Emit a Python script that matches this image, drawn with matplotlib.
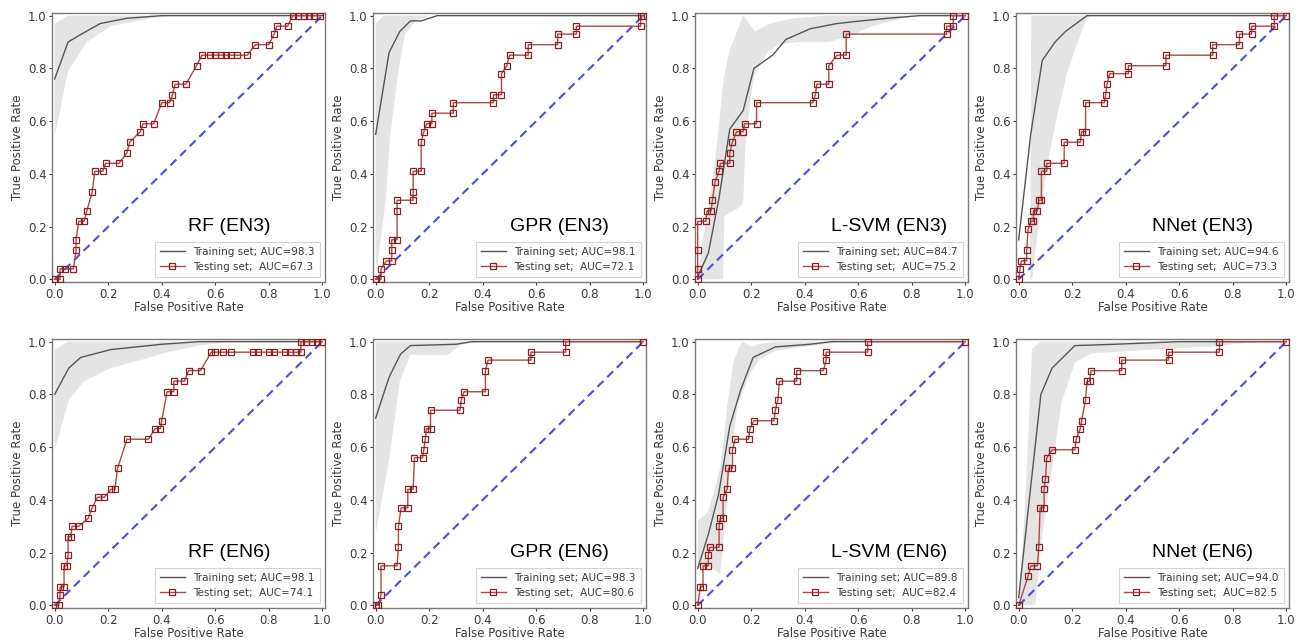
import numpy as np
import matplotlib
matplotlib.use("Agg")
import matplotlib.pyplot as plt

# panel names and AUC values
titles = ["RF (EN3)", "GPR (EN3)", "L-SVM (EN3)", "NNet (EN3)",
          "RF (EN6)", "GPR (EN6)", "L-SVM (EN6)", "NNet (EN6)"]
auc_train = [98.3, 98.1, 84.7, 94.6, 98.1, 98.3, 89.8, 94.0]
auc_test = [67.3, 72.1, 75.2, 73.3, 74.1, 80.6, 82.4, 82.5]

# ---- RF (EN3)
rf3_train = [(0, 0.76), (0.05, 0.90), (0.10, 0.93), (0.17, 0.97), (0.27, 0.99), (0.40, 1.0), (1.0, 1.0)]
rf3_hi = [(0, 0.97), (0.05, 1.0), (1.0, 1.0)]
rf3_lo = [(0, 0.54), (0.05, 0.79), (0.12, 0.90), (0.21, 0.96), (0.36, 0.99), (0.45, 1.0), (1.0, 1.0)]
rf3_test = [(0.0, 0.0), (0.02, 0.0), (0.02, 0.04), (0.04, 0.04), (0.07, 0.04), (0.08, 0.11), (0.08, 0.15),
            (0.09, 0.22), (0.11, 0.22), (0.12, 0.26), (0.14, 0.33), (0.15, 0.41), (0.18, 0.41), (0.19, 0.44),
            (0.24, 0.44), (0.27, 0.48), (0.28, 0.52), (0.32, 0.56), (0.33, 0.59), (0.37, 0.59), (0.40, 0.67),
            (0.43, 0.67), (0.44, 0.70), (0.45, 0.74), (0.49, 0.74), (0.53, 0.81), (0.55, 0.85), (0.58, 0.85),
            (0.60, 0.85), (0.62, 0.85), (0.64, 0.85), (0.66, 0.85), (0.68, 0.85), (0.72, 0.85), (0.75, 0.89),
            (0.80, 0.89), (0.82, 0.93), (0.83, 0.96), (0.87, 0.96), (0.89, 1.0), (0.91, 1.0), (0.93, 1.0),
            (0.95, 1.0), (0.97, 1.0), (0.99, 1.0)]

# ---- GPR (EN3)
gpr3_train = [(0, 0.55), (0.05, 0.86), (0.09, 0.94), (0.13, 0.98), (0.17, 0.98), (0.23, 1.0), (1.0, 1.0)]
gpr3_hi = [(0, 0.97), (0.03, 1.0), (1.0, 1.0)]
gpr3_lo = [(0, 0.0), (0.037, 0.30), (0.055, 0.55), (0.086, 0.80), (0.11, 0.93), (0.15, 0.98), (0.20, 1.0), (1.0, 1.0)]
gpr3_test = [(0.0, 0.0), (0.02, 0.0), (0.02, 0.04), (0.04, 0.07), (0.06, 0.07), (0.06, 0.11), (0.06, 0.15),
             (0.08, 0.15), (0.08, 0.26), (0.08, 0.30), (0.14, 0.30), (0.14, 0.33), (0.14, 0.41), (0.17, 0.41),
             (0.17, 0.52), (0.18, 0.56), (0.19, 0.59), (0.21, 0.59), (0.21, 0.63), (0.29, 0.63), (0.29, 0.67),
             (0.44, 0.67), (0.44, 0.70), (0.47, 0.70), (0.47, 0.78), (0.49, 0.81), (0.50, 0.85), (0.57, 0.85),
             (0.57, 0.89), (0.68, 0.89), (0.68, 0.93), (0.75, 0.93), (0.75, 0.96), (0.99, 0.96), (0.99, 1.0),
             (1.0, 1.0)]

# ---- L-SVM (EN3)
svm3_train = [(0, 0.01), (0.04, 0.10), (0.08, 0.31), (0.12, 0.57), (0.17, 0.64), (0.21, 0.80), (0.28, 0.85),
              (0.33, 0.91), (0.42, 0.95), (0.52, 0.97), (0.61, 0.98), (0.71, 0.99), (0.83, 1.0), (1.0, 1.0)]
svm3_hi = [(0, 0.0), (0.02, 0.15), (0.047, 0.31), (0.072, 0.51), (0.097, 0.76), (0.12, 0.87), (0.17, 1.0),
           (0.214, 0.94), (0.27, 0.97), (0.36, 0.99), (0.48, 1.0), (1.0, 1.0)]
svm3_lo = [(0, 0.0), (0.094, 0.0), (0.10, 0.24), (0.15, 0.27), (0.17, 0.29), (0.18, 0.55), (0.21, 0.77),
           (0.26, 0.86), (0.30, 0.89), (0.375, 0.90), (0.49, 0.90), (0.585, 0.93), (0.65, 0.96), (0.77, 0.99),
           (0.83, 1.0), (1.0, 1.0)]
svm3_test = [(0.0, 0.0), (0.0, 0.04), (0.0, 0.11), (0.0, 0.22), (0.03, 0.22), (0.035, 0.26), (0.05, 0.26),
             (0.055, 0.30), (0.065, 0.37), (0.08, 0.41), (0.085, 0.44), (0.12, 0.44), (0.12, 0.48), (0.13, 0.52),
             (0.145, 0.56), (0.17, 0.56), (0.175, 0.59), (0.22, 0.59), (0.22, 0.67), (0.43, 0.67), (0.44, 0.70),
             (0.445, 0.74), (0.49, 0.74), (0.49, 0.81), (0.52, 0.85), (0.555, 0.85), (0.555, 0.93), (0.93, 0.93),
             (0.93, 0.96), (0.955, 0.96), (0.955, 1.0), (1.0, 1.0)]

# ---- NNet (EN3)
nn3_train = [(0, 0.15), (0.045, 0.55), (0.088, 0.83), (0.136, 0.90), (0.175, 0.94), (0.255, 1.0), (1.0, 1.0)]
nn3_hi = [(0, 0.0), (0.043, 0.0), (0.047, 1.0), (1.0, 1.0)]
nn3_lo = [(0, 0.0), (0.05, 0.0), (0.08, 0.25), (0.11, 0.45), (0.15, 0.65), (0.18, 0.78), (0.21, 0.87),
          (0.25, 0.98), (0.27, 1.0), (1.0, 1.0)]
nn3_test = [(0.0, 0.0), (0.005, 0.04), (0.01, 0.07), (0.03, 0.07), (0.03, 0.11), (0.035, 0.19), (0.045, 0.22),
            (0.055, 0.22), (0.055, 0.26), (0.07, 0.26), (0.075, 0.30), (0.085, 0.30), (0.085, 0.41), (0.105, 0.41),
            (0.105, 0.44), (0.17, 0.44), (0.17, 0.52), (0.23, 0.52), (0.235, 0.56), (0.25, 0.56), (0.25, 0.67),
            (0.32, 0.67), (0.325, 0.70), (0.33, 0.74), (0.34, 0.78), (0.41, 0.78), (0.41, 0.81), (0.55, 0.81),
            (0.55, 0.85), (0.725, 0.85), (0.725, 0.89), (0.825, 0.89), (0.825, 0.93), (0.87, 0.93), (0.87, 0.96),
            (0.955, 0.96), (0.955, 1.0), (1.0, 1.0)]

# ---- RF (EN6)
rf6_train = [(0, 0.80), (0.053, 0.90), (0.097, 0.94), (0.21, 0.97), (0.40, 0.99), (0.54, 1.0), (1.0, 1.0)]
rf6_hi = [(0, 0.97), (0.05, 1.0), (1.0, 1.0)]
rf6_lo = [(0, 0.59), (0.053, 0.78), (0.11, 0.85), (0.21, 0.90), (0.32, 0.93), (0.42, 0.96), (0.54, 0.985),
          (0.66, 1.0), (1.0, 1.0)]
rf6_test = [(0.0, 0.0), (0.015, 0.0), (0.02, 0.04), (0.02, 0.07), (0.035, 0.07), (0.035, 0.15), (0.045, 0.15),
            (0.05, 0.19), (0.05, 0.26), (0.06, 0.26), (0.065, 0.30), (0.09, 0.30), (0.125, 0.33), (0.14, 0.37),
            (0.16, 0.41), (0.185, 0.41), (0.21, 0.44), (0.225, 0.44), (0.235, 0.52), (0.27, 0.63), (0.35, 0.63),
            (0.375, 0.67), (0.395, 0.67), (0.40, 0.70), (0.42, 0.81), (0.445, 0.81), (0.445, 0.85), (0.485, 0.85),
            (0.50, 0.89), (0.545, 0.89), (0.585, 0.96), (0.60, 0.96), (0.63, 0.96), (0.66, 0.96), (0.74, 0.96),
            (0.76, 0.96), (0.80, 0.96), (0.82, 0.96), (0.86, 0.96), (0.88, 0.96), (0.90, 0.96), (0.92, 0.96),
            (0.92, 1.0), (0.94, 1.0), (0.96, 1.0), (0.98, 1.0), (1.0, 1.0)]

# ---- GPR (EN6)
gpr6_train = [(0, 0.71), (0.05, 0.865), (0.093, 0.953), (0.13, 0.985), (0.30, 0.99), (0.36, 1.0), (1.0, 1.0)]
gpr6_hi = [(0, 1.0), (1.0, 1.0)]
gpr6_lo = [(0, 0.27), (0.05, 0.55), (0.09, 0.85), (0.13, 0.95), (0.27, 0.95), (0.32, 0.99), (0.40, 1.0), (1.0, 1.0)]
gpr6_test = [(0.0, 0.0), (0.01, 0.0), (0.02, 0.04), (0.02, 0.15), (0.08, 0.15), (0.085, 0.22), (0.085, 0.30),
             (0.095, 0.37), (0.12, 0.37), (0.12, 0.44), (0.14, 0.44), (0.145, 0.56), (0.175, 0.56), (0.18, 0.59),
             (0.185, 0.63), (0.19, 0.67), (0.205, 0.67), (0.205, 0.74), (0.315, 0.74), (0.32, 0.78), (0.33, 0.81),
             (0.41, 0.81), (0.41, 0.89), (0.42, 0.93), (0.58, 0.93), (0.58, 0.96), (0.71, 0.96), (0.71, 1.0),
             (1.0, 1.0)]

# ---- L-SVM (EN6)
svm6_train = [(0, 0.14), (0.04, 0.27), (0.078, 0.42), (0.12, 0.68), (0.16, 0.815), (0.207, 0.94), (0.29, 0.98),
              (0.42, 0.99), (0.50, 1.0), (1.0, 1.0)]
svm6_hi = [(0, 0.32), (0.04, 0.355), (0.084, 0.52), (0.11, 0.75), (0.133, 0.92), (0.158, 0.985), (0.17, 1.0),
           (0.20, 0.98), (0.225, 0.99), (0.30, 1.0), (1.0, 1.0)]
svm6_lo = [(0, 0.14), (0.04, 0.15), (0.084, 0.12), (0.096, 0.24), (0.11, 0.39), (0.127, 0.60), (0.152, 0.77),
           (0.195, 0.88), (0.23, 0.93), (0.29, 0.965), (0.39, 0.98), (0.55, 1.0), (1.0, 1.0)]
svm6_test = [(0.0, 0.0), (0.01, 0.07), (0.02, 0.07), (0.02, 0.15), (0.04, 0.15), (0.04, 0.19), (0.045, 0.22),
             (0.08, 0.22), (0.08, 0.30), (0.085, 0.33), (0.095, 0.33), (0.095, 0.41), (0.11, 0.44), (0.115, 0.52),
             (0.13, 0.52), (0.13, 0.59), (0.14, 0.63), (0.19, 0.63), (0.195, 0.67), (0.21, 0.70), (0.285, 0.70),
             (0.29, 0.74), (0.30, 0.78), (0.305, 0.85), (0.37, 0.85), (0.37, 0.89), (0.47, 0.89), (0.48, 0.93),
             (0.48, 0.96), (0.635, 0.96), (0.635, 1.0), (1.0, 1.0)]

# ---- NNet (EN6)
nn6_train = [(0, 0.03), (0.045, 0.45), (0.083, 0.80), (0.125, 0.90), (0.21, 0.985), (0.36, 0.99), (0.60, 1.0),
             (1.0, 1.0)]
nn6_hi = [(0, 0.0), (0.025, 0.40), (0.05, 0.97), (0.08, 1.0), (1.0, 1.0)]
nn6_lo = [(0, 0.0), (0.062, 0.0), (0.088, 0.27), (0.125, 0.52), (0.16, 0.77), (0.21, 0.92), (0.27, 0.955),
          (0.50, 0.97), (0.70, 0.98), (0.90, 1.0), (1.0, 1.0)]
nn6_test = [(0.0, 0.0), (0.035, 0.11), (0.045, 0.15), (0.07, 0.15), (0.075, 0.22), (0.08, 0.37), (0.095, 0.37),
            (0.095, 0.44), (0.10, 0.48), (0.105, 0.56), (0.125, 0.59), (0.21, 0.59), (0.215, 0.63), (0.23, 0.67),
            (0.235, 0.70), (0.25, 0.78), (0.255, 0.85), (0.265, 0.85), (0.27, 0.89), (0.385, 0.89), (0.385, 0.93),
            (0.56, 0.93), (0.56, 0.96), (0.75, 0.96), (0.75, 1.0), (1.0, 1.0)]

trains = [rf3_train, gpr3_train, svm3_train, nn3_train, rf6_train, gpr6_train, svm6_train, nn6_train]
his = [rf3_hi, gpr3_hi, svm3_hi, nn3_hi, rf6_hi, gpr6_hi, svm6_hi, nn6_hi]
los = [rf3_lo, gpr3_lo, svm3_lo, nn3_lo, rf6_lo, gpr6_lo, svm6_lo, nn6_lo]
tests = [rf3_test, gpr3_test, svm3_test, nn3_test, rf6_test, gpr6_test, svm6_test, nn6_test]

W, H = 1304, 644
fig = plt.figure(figsize=(W / 100, H / 100), dpi=100)

col_left = [52, 373, 695, 1016]
row_top = [13, 339]
box_w, box_h = 273, 269

tick_col = "#3a3a3a"
for i in range(8):
    r, c = divmod(i, 4)
    ax = fig.add_axes([col_left[c] / W, 1 - (row_top[r] + box_h) / H, box_w / W, box_h / H])

    # grey spread band of the training curve
    hi = np.array(his[i])
    lo = np.array(los[i])[::-1]
    poly = np.vstack([hi, lo])
    ax.fill(poly[:, 0], poly[:, 1], color="#e4e4e4", lw=0, zorder=1)

    tr = np.array(trains[i])
    ax.plot(tr[:, 0], tr[:, 1], color="#555555", lw=1.0, zorder=3,
            label="Training set; AUC=%.1f" % auc_train[i])

    ts = np.array(tests[i])
    ax.plot(ts[:, 0], ts[:, 1], color="#a84a4a", lw=1.0, marker="s", ms=4.2,
            mfc="none", mec="#8b2020", mew=0.9, zorder=4,
            label="Testing set;  AUC=%.1f" % auc_test[i])

    ax.plot([0, 1], [0, 1], ls="--", color="#4b4be6", lw=1.5, dashes=(4, 2.5), zorder=2)

    ax.set_xlim(-0.01, 1.01)
    ax.set_ylim(-0.01, 1.01)
    ax.set_xticks(np.arange(0, 1.01, 0.2))
    ax.set_yticks(np.arange(0, 1.01, 0.2))
    ax.tick_params(labelsize=8.5, colors=tick_col, length=2.5, width=0.8, pad=1.5)
    for s in ax.spines.values():
        s.set_color("#7a7a7a")
        s.set_linewidth(1.0)
    ax.set_xlabel("False Positive Rate", fontsize=8.5, color=tick_col, labelpad=0.5)
    ax.set_ylabel("True Positive Rate", fontsize=8.5, color=tick_col, labelpad=3)

    ax.text(0.5, 0.2, titles[i], fontsize=14, family="Liberation Sans",
            ha="left", va="center", zorder=5)

    leg = ax.legend(loc="lower right", fontsize=7.5, frameon=True, fancybox=False,
                    borderpad=0.5, handlelength=2.4, labelspacing=0.45)
    leg.get_frame().set_edgecolor("#c8c8c8")
    leg.get_frame().set_linewidth(0.8)
    for t in leg.get_texts():
        t.set_color(tick_col)

fig.savefig("out.png", dpi=100)
